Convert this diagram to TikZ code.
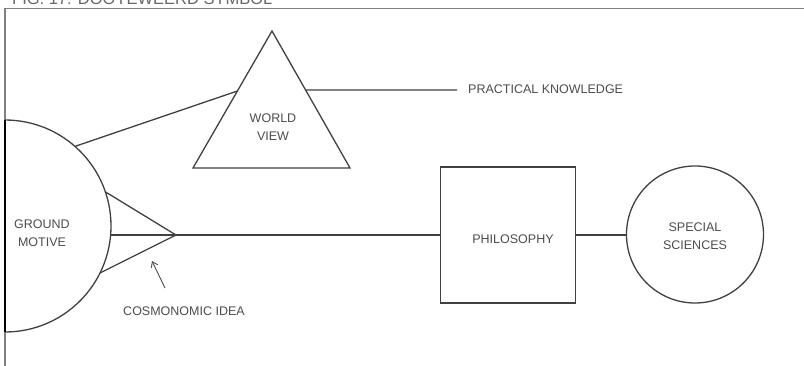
\documentclass[tikz,border=0pt]{standalone}
\usepackage{fontspec}
\setmainfont{Liberation Sans}
\usetikzlibrary{arrows.meta,calc}
\begin{document}
\begin{tikzpicture}[x=1pt,y=-1pt,
  ln/.style={draw=black!75,line width=1.3pt},
  lbl/.style={font=\fontsize{12.5}{18}\selectfont,text=black!70,align=center,inner sep=0pt},
  frame/.style={draw=black!50,line width=1.6pt}]
\useasboundingbox (0,0) rectangle (804,365);
% title (cut off at the top, as in the reference)
\node[anchor=base west,font=\fontsize{16.5}{18}\selectfont,text=black!60,inner sep=0pt] (title) at (12,4) {FIG. 17: DOOYEWEERD SYMBOL};
% frame
\coordinate (fbl) at (5,366);
\coordinate (ftl) at (5,8.5);
\coordinate (ftr) at (805,8.5);
\draw[frame] (fbl) -- (ftl) -- (ftr);
% ground motive half circle
\coordinate (gm) at (5,226);
\coordinate (gmtop) at (5,120);
\coordinate (gmbot) at (5,332);
\draw[ln] (gmtop) arc[start angle=-90,end angle=90,radius=106];
\draw[draw=black,line width=2pt] (gmtop) -- (gmbot);
\node[lbl] (gmtext) at (42,233) {GROUND\\MOTIVE};
% cosmonomic idea triangle
\coordinate (ct1) at ($(gm)+(-18.8:106)$);
\coordinate (ct2) at ($(gm)+(26.3:106)$);
\coordinate (capex) at (176,235);
\coordinate (cmid) at (110.6,235);
\draw[ln] (ct1) -- (capex) -- (ct2);
% world view triangle
\coordinate (wtop) at (272,31);
\coordinate (wbl) at (193,168);
\coordinate (wbr) at (350,168);
\draw[ln,line join=miter] (wtop) -- (wbl) -- (wbr) -- cycle;
\node[lbl] (wv) at (273,127) {WORLD\\VIEW};
\coordinate (wl) at ($(wtop)!0.4380!(wbl)$);
\coordinate (wr) at ($(wtop)!0.4307!(wbr)$);
\coordinate (gmw) at ($(gm)+(-48.7:106)$);
\draw[ln] (gmw) -- (wl);
% practical knowledge
\coordinate (pkend) at (457,90);
\draw[ln] (wr) -- (pkend);
\node[lbl,anchor=west] (pk) at (468,89) {PRACTICAL KNOWLEDGE};
% philosophy box
\node[draw=black!75,line width=1.8pt,minimum width=135pt,minimum height=136pt,inner sep=0pt] (phil) at (508,235) {};
\node[lbl] (philtext) at (513,239) {PHILOSOPHY};
% special sciences
\node[draw=black!75,line width=1.3pt,circle,minimum size=137pt,inner sep=0pt] (ss) at (695,234.5) {};
\node[lbl] (sstext) at (695,236) {SPECIAL\\SCIENCES};
% connectors
\draw[ln] (cmid) -- (capex) -- (phil.west |- capex);
\draw[ln] (phil.east |- 0,235) -- (ss.west |- 0,235);
% cosmonomic idea arrow
\coordinate (atail) at (165,288);
\coordinate (ahead) at (152,261);
\draw[draw=black!70,line width=0.9pt,-{Straight Barb[length=5pt,width=7pt]}] (atail) -- (ahead);
\node[lbl] (ci) at (184,311) {COSMONOMIC IDEA};
\end{tikzpicture}
\end{document}
